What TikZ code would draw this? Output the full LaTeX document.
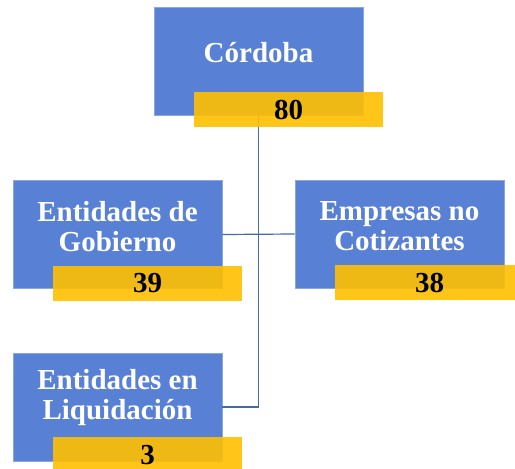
\documentclass[tikz,border=0pt]{standalone}
\usepackage{fontspec}
\setmainfont{Liberation Serif}
\usetikzlibrary{positioning}

\definecolor{boxblue}{RGB}{88,129,214}
\definecolor{baryellow}{RGB}{255,192,0}
\definecolor{linkblue}{RGB}{68,104,180}

\begin{document}
\begin{tikzpicture}[
    x=1pt,
    y=-1pt,
    box/.style={fill=boxblue, draw=boxblue!70!white, line width=0.6pt, minimum width=209pt, minimum height=108pt, inner sep=0pt},
    bar/.style={fill=baryellow, fill opacity=0.9, text opacity=1, minimum width=189pt, minimum height=35pt, inner sep=0pt, font=\bfseries\fontsize{29}{30}\selectfont},
    txt/.style={text=white, align=center, inner sep=0pt, font=\bfseries\fontsize{29}{30}\selectfont},
    link/.style={draw=linkblue, line width=1.2pt}
]
\clip (0,0) rectangle (515,469);

% boxes
\node[box] (cordoba) at (258.5,61) {};
\node[box] (gobierno) at (117.5,234.5) {};
\node[box] (empresas) at (399.5,234) {};
\node[box] (liquidacion) at (117.5,407) {};

\node[txt] (cordobatxt) at ([yshift=8pt]cordoba.center) {Córdoba};
\node[txt] (gobiernotxt) at ([yshift=8pt]gobierno.center) {Entidades de\\Gobierno};
\node[txt] (empresastxt) at ([yshift=8pt]empresas.center) {Empresas no\\Cotizantes};
\node[txt] (liquidaciontxt) at ([yshift=9pt]liquidacion.center) {Entidades en\\Liquidación};

% connectors
\draw[link] (cordoba.south) |- (liquidacion.east);
\draw[link] (gobierno.east) -- (empresas.west);

% counts
\node[bar] (cordobanum) at ([xshift=30pt,yshift=5.5pt]cordoba.south) {80};
\node[bar] (gobiernonum) at ([xshift=30pt,yshift=5.5pt]gobierno.south) {39};
\node[bar] (empresasnum) at ([xshift=30pt,yshift=5.5pt]empresas.south) {38};
\node[bar] (liquidacionnum) at ([xshift=30pt,yshift=6.5pt]liquidacion.south) {3};
\end{tikzpicture}
\end{document}
